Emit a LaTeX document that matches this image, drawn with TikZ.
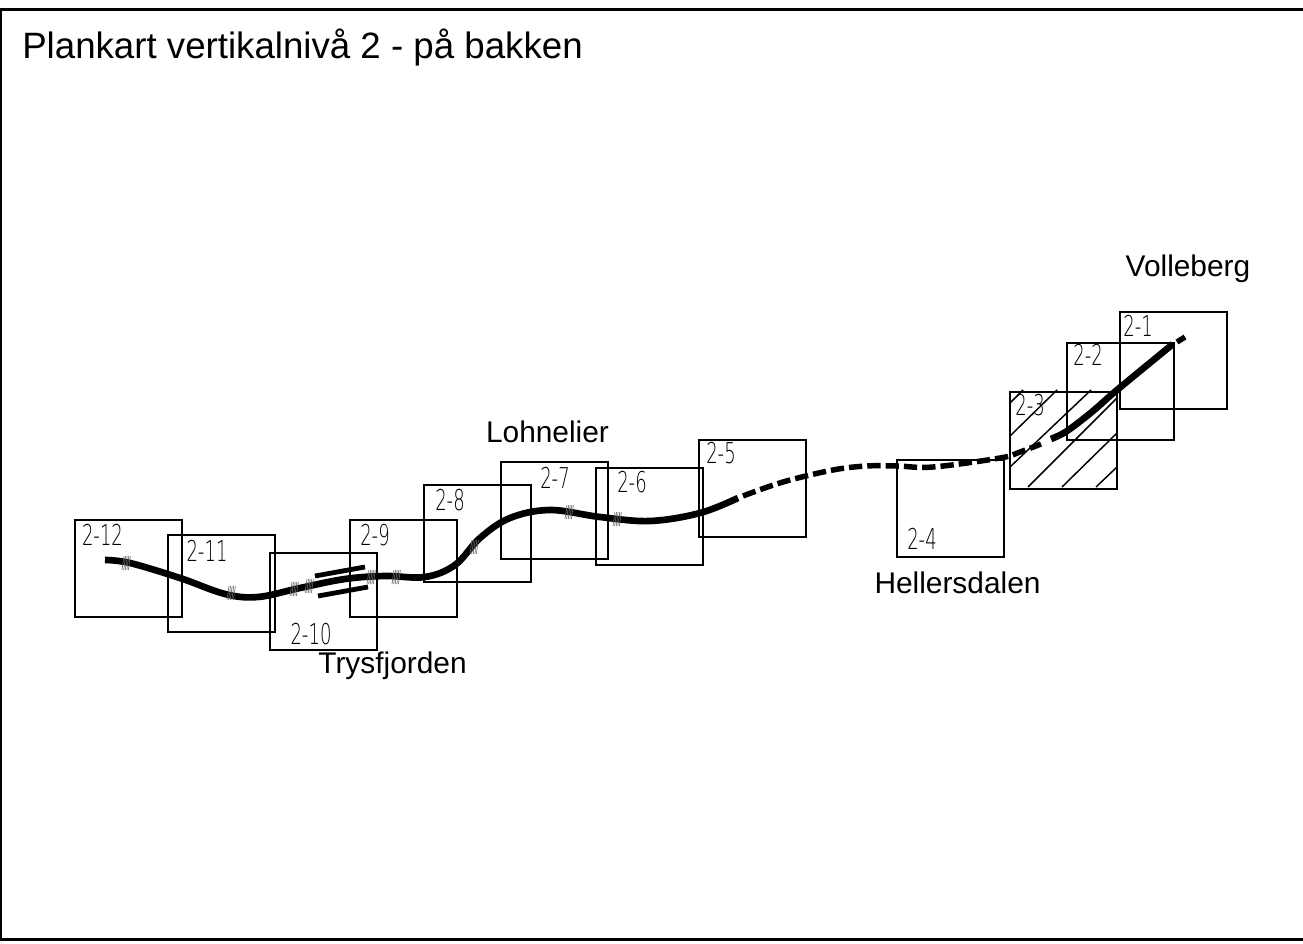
\documentclass[tikz,border=0pt]{standalone}
\usepackage{fontspec}
\setmainfont{Liberation Sans}
\newfontfamily\isofont[FakeStretch=0.63]{DejaVu Sans ExtraLight}
\tikzset{
  sheet/.style={draw=black,line width=1.45pt,rectangle,minimum width=80.25pt,minimum height=72.75pt,inner sep=0pt,anchor=north west},
  sheetline/.style={draw=black,line width=1.7pt},
  isolabel/.style={font=\isofont\fontsize{21.5}{21.5}\selectfont,text=black,inner sep=0pt},
  placename/.style={font=\fontsize{22.4}{26}\selectfont,text=black,inner sep=0pt},
  mapline/.style={draw=black,line width=5pt},
  mapdash/.style={draw=black,line width=4.1pt,dash pattern=on 10pt off 3.75pt},
  fuzz/.style={draw=black!60,line width=.45pt},
  hatch/.style={draw=black,line width=1.1pt}
}
\newcommand{\px}[2]{({#1*0.75pt},{-#2*0.75pt})}
\newcommand{\fuzzat}[2]{\foreach \d in {-4,-2.4,...,4}{\draw[fuzz] ({(#1+\d-1)*0.75pt},{-(#2+7)*0.75pt}) -- ({(#1+\d+1)*0.75pt},{-(#2-7)*0.75pt});}}
\begin{document}
\begin{tikzpicture}[x=1pt,y=1pt]
\useasboundingbox \px{0}{0} rectangle \px{1303}{944};
\fill[white] \px{0}{0} rectangle \px{1303}{944};
\draw[sheetline] \px{-2}{9.5} -- \px{1305}{9.5};
\draw[sheetline] \px{-2}{939.5} -- \px{1305}{939.5};
\draw[sheetline] \px{1}{10} -- \px{1}{940};
\node[inner sep=0pt,anchor=west,font=\fontsize{27.5}{30}\selectfont] (title) at \px{22}{48} {Plankart vertikalnivå 2 - på bakken};
% hatching of 2-3
\foreach \a/\b/\c/\d in {1010/403/1023/390, 1010/436/1057/390, 1010/467/1091/390, 1028/487/1117/398, 1062/487/1117/433, 1096/487/1117/467}{
  \draw[hatch] \px{\a}{\b} -- \px{\c}{\d};
}
% sheets
\foreach \n/\x/\y in {s12/74.2/519.2, s11/167.2/534.2, s10/269.2/552.2, s9/349.2/519.2, s8/423.2/484.2, s7/500.2/461.2, s6/595.2/467.2, s5/698.2/439.2, s4/896.2/459.2, s3/1009.2/391.2, s2/1066.2/342.2, s1/1119.2/311.2}{
  \node[sheet] (\n) at \px{\x}{\y} {};
}
% sheet labels
\foreach \n/\x/\y/\t in {a12/102.5/534.5/2-12, a11/207/550.5/2-11, a10/311/634.5/2-10, a9/375/535/2-9, a8/450/500/2-8, a7/555/478/2-7, a6/632/482/2-6, a5/721/453/2-5, a4/922/539/2-4, a3/1030/405/2-3, a2/1088/355/2-2, a1/1138/326/2-1}{
  \node[isolabel] (\n) at \px{\x}{\y} {\t};
}
% route
\draw[mapline,line cap=butt] plot[smooth,tension=.6] coordinates {
 \px{105}{560} \px{130}{563} \px{180}{578} \px{225}{594} \px{258}{597} \px{300}{588} \px{345}{579} \px{385}{576} \px{425}{577} \px{455}{565} \px{480}{538} \px{510}{518} \px{550}{510} \px{600}{517} \px{650}{521} \px{700}{513} \px{738}{498}};
\draw[mapdash] plot[smooth,tension=.6] coordinates {
 \px{743}{496} \px{783}{482} \px{833}{470} \px{867}{466} \px{897}{466} \px{933}{467} \px{1000}{458} \px{1020}{452} \px{1041}{444}};
\draw[mapline] plot[smooth,tension=.6] coordinates {
 \px{1051}{439} \px{1067}{431} \px{1093}{411} \px{1117}{390} \px{1173}{344}};
\draw[mapdash,dash pattern=on 9pt off 0pt] \px{1177}{342} -- \px{1185}{337};
% fuzz on route
\fuzzat{127}{563}\fuzzat{232}{593}\fuzzat{295}{589}\fuzzat{310}{586}\fuzzat{372}{577}\fuzzat{397}{577}\fuzzat{475}{547}\fuzzat{570}{512}\fuzzat{618}{519}
% bridge
\draw[draw=black,line width=3.6pt] \px{315}{576} -- \px{365}{567};
\draw[draw=black,line width=3.6pt] \px{318}{596} -- \px{368}{587};
% place names
\node[placename] (volleberg) at \px{1188}{269} {Volleberg};
\node[placename] (hellersdalen) at \px{957.5}{583} {Hellersdalen};
\node[placename] (lohnelier) at \px{547.5}{432} {Lohnelier};
\node[placename] (trysfjorden) at \px{392.5}{666} {Trysfjorden};
\end{tikzpicture}
\end{document}
